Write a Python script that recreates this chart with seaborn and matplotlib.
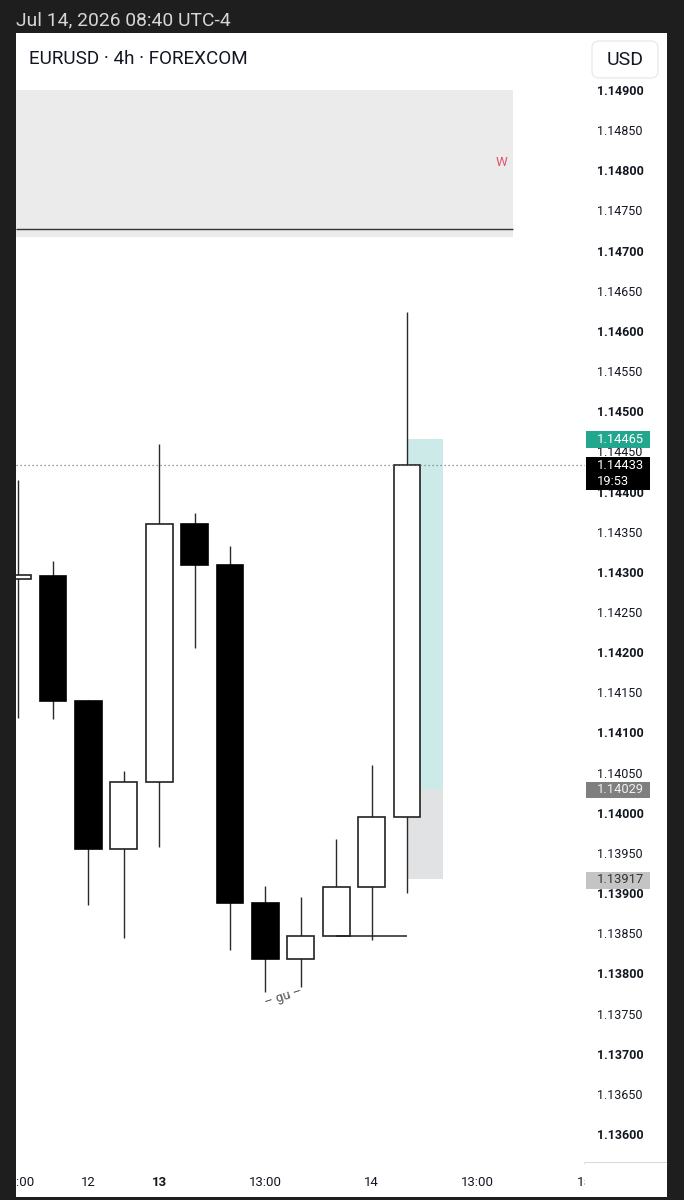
import numpy as np
import pandas as pd
import matplotlib
matplotlib.use("Agg")
import matplotlib.pyplot as plt
import seaborn as sns
from matplotlib.patches import Rectangle, FancyBboxPatch
from matplotlib import transforms

sns.set_theme(style="white")
plt.rcParams['font.family'] = ['Roboto', 'DejaVu Sans']

# ---------------- data ----------------
positions = list(range(12))
opens  = [1.14291, 1.14295, 1.14139, 1.13955, 1.14038, 1.14360, 1.14309, 1.13888, 1.13818, 1.13847, 1.13908, 1.13995]
closes = [1.14296, 1.14139, 1.13955, 1.14038, 1.14360, 1.14309, 1.13888, 1.13818, 1.13847, 1.13908, 1.13995, 1.14433]
highs  = [1.14414, 1.14314, 1.14140, 1.14052, 1.14459, 1.14373, 1.14332, 1.13909, 1.13895, 1.13967, 1.14060, 1.14624]
lows   = [1.14118, 1.14117, 1.13885, 1.13844, 1.13957, 1.14205, 1.13829, 1.13777, 1.13783, 1.13847, 1.13842, 1.13900]

xtick_pos = [0, 2, 4, 7, 10, 13, 16]
xtick_labels = ["09:00", "12", "13", "13:00", "14", "13:00", "15"]
xtick_bold = ["13"]

price_ticks = [round(1.13600 + 0.0005 * i, 5) for i in range(27)]

zone_top, zone_bottom, zone_line, zone_end = 1.14900, 1.14717, 1.14727, 14.0
trend_level, trend_start, trend_end = 1.13847, 9, 11
last_price = 1.14433
countdown = "19:53"
target_price, entry_price, stop_price = 1.14465, 1.14029, 1.13917
pos_tool_start, pos_tool_end = 11, 12.02

df = pd.DataFrame({"pos": positions, "open": opens, "close": closes, "high": highs, "low": lows})
df["up"] = df["close"] >= df["open"]

# ---------------- figure ----------------
W, H = 684, 1200
DARK = '#1e1e1e'
fig = plt.figure(figsize=(W / 100, H / 100), dpi=100, facecolor=DARK)

def fy(y):
    return 1 - y / H

fig.add_artist(Rectangle((16 / W, fy(1197)), (667 - 16) / W, (1197 - 33) / H,
                         transform=fig.transFigure, facecolor='white', edgecolor='none', zorder=-5))

fig.text(16 / W, fy(20), 'Jul 14, 2026 08:40 UTC-4', color='#d6d6d6', fontsize=13.9, va='center', ha='left')
fig.text(29 / W, fy(59), 'EURUSD · 4h · FOREXCOM', color='#131722', fontsize=13.6, va='center', ha='left')
fig.add_artist(FancyBboxPatch((592 / 100, (H - 78) / 100), 0.66, 0.37,
                              boxstyle='round,pad=0,rounding_size=0.07',
                              transform=fig.dpi_scale_trans, facecolor='white',
                              edgecolor='#e8e8e8', linewidth=0.9, zorder=1))
fig.text(625 / W, fy(60), 'USD', color='#131722', fontsize=14, va='center', ha='center', zorder=2)

y_lo, y_hi = 1.135639, 1.149125
ax_rect = [16 / W, fy(1163), (585 - 16) / W, (1163 - 80) / H]
ax = fig.add_axes(ax_rect)
ax.set_facecolor('white')
ax.set_xlim(-0.045, 16.028)
ax.set_ylim(y_lo, y_hi)
for s in ax.spines.values():
    s.set_visible(False)

# top gray zone
x_left = ax.get_xlim()[0]
ax.add_patch(Rectangle((x_left, zone_bottom), zone_end - x_left, zone_top - zone_bottom,
                       facecolor='#ebebeb', edgecolor='none', zorder=0.5))
ax.hlines(zone_line, x_left, zone_end, color='#333333', lw=1.0, zorder=1)
ax.text(13.68, 1.14810, 'W', color='#e0566a', fontsize=9.5, ha='center', va='center')

# position tool
ax.add_patch(Rectangle((pos_tool_start, entry_price), pos_tool_end - pos_tool_start, target_price - entry_price,
                       facecolor='#26a69a', alpha=0.23, edgecolor='none', zorder=1))
ax.add_patch(Rectangle((pos_tool_start, stop_price), pos_tool_end - pos_tool_start, entry_price - stop_price,
                       facecolor='#787b86', alpha=0.22, edgecolor='none', zorder=1))

# candles
ax.vlines(df["pos"], df["low"], df["high"], color='#2a2a2a', lw=1.0, zorder=2)
bottoms = np.minimum(df["open"], df["close"])
heights = np.maximum(np.abs(df["close"] - df["open"]), 0.00003)
fills = ['white' if u else 'black' for u in df["up"]]
edges = ['#222222' if u else 'black' for u in df["up"]]
ax.bar(df["pos"], heights, bottom=bottoms, width=0.76, color=fills, edgecolor=edges, linewidth=1.2, zorder=3)

ax.hlines(trend_level, trend_start, trend_end, color='#222222', lw=1.1, zorder=4)
ax.axhline(last_price, color='#777777', ls=(0, (1, 2.2)), lw=0.9, zorder=4)
ax.text(7.5, 1.13771, '– gu –', rotation=18, color='#555555', fontsize=9.5, ha='center', va='center')

ax.set_xticks(xtick_pos)
ax.set_xticklabels(xtick_labels)
ax.tick_params(axis='x', length=0, pad=9, labelsize=9.5, labelcolor='#131722')
for lab in ax.get_xticklabels():
    if lab.get_text() in xtick_bold:
        lab.set_fontweight('bold')
ax.set_yticks([])
ax.grid(False)

# price scale
pax = fig.add_axes([585 / W, fy(1163), 82 / W, (1163 - 80) / H])
pax.set_zorder(2)
pax.set_facecolor('white')
pax.set_xlim(0, 1)
pax.set_ylim(y_lo, y_hi)
pax.set_xticks([])
pax.set_yticks(price_ticks)
pax.set_yticklabels([f"{p:.5f}" for p in price_ticks])
pax.tick_params(axis='y', length=0, pad=-9.0, labelsize=9, labelcolor='#131722')
for lab, p in zip(pax.get_yticklabels(), price_ticks):
    lab.set_horizontalalignment('left')
    if abs(round(p * 1000) - p * 1000) < 1e-6:
        lab.set_fontweight('bold')
for k in ['top', 'left', 'right']:
    pax.spines[k].set_visible(False)
pax.spines['bottom'].set_color('#333333')
pax.spines['bottom'].set_linewidth(1.0)
pax.grid(False)

blend = transforms.blended_transform_factory(pax.transAxes, pax.transData)
tx = 12 / 82

def tag(y0, y1, color):
    pax.add_patch(Rectangle((1 / 82, y0), 64 / 82, y1 - y0, transform=blend,
                            facecolor=color, edgecolor='none', zorder=5))

tag(1.14454, 1.14476, '#22a68e')
pax.text(tx, target_price, f"{target_price:.5f}", transform=blend, color='white', fontsize=9.3, va='center', ha='left', zorder=6)
tag(1.14402, 1.14443, '#000000')
pax.text(tx, 1.14432, f"{last_price:.5f}", transform=blend, color='white', fontsize=9.3, va='center', ha='left', zorder=6)
pax.text(tx, 1.14413, countdown, transform=blend, color='white', fontsize=9.3, va='center', ha='left', zorder=6)
tag(1.14018, 1.14038, '#7f7f7f')
pax.text(tx, entry_price, f"{entry_price:.5f}", transform=blend, color='#f2f2f2', fontsize=9.3, va='center', ha='left', zorder=6)
tag(1.13905, 1.13926, '#c4c4c4')
pax.text(tx, stop_price, f"{stop_price:.5f}", transform=blend, color='#333333', fontsize=9.3, va='center', ha='left', zorder=6)

# cover parts of the time scale under the price scale and the left frame
fig.add_artist(Rectangle((585 / W, fy(1197)), 82 / W, (1197 - 1163) / H, transform=fig.transFigure,
                         facecolor='white', edgecolor='none', zorder=3))
fig.add_artist(Rectangle((0, 0), 16 / W, 1, transform=fig.transFigure,
                         facecolor=DARK, edgecolor='none', zorder=10))

fig.savefig('out.png', dpi=100, facecolor=DARK)
